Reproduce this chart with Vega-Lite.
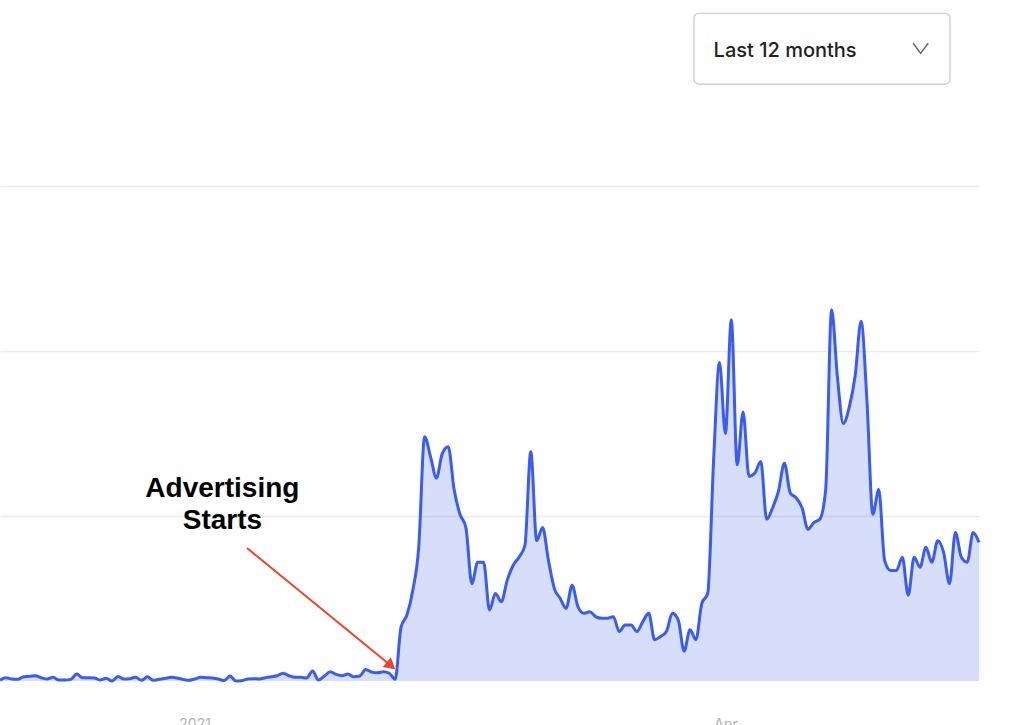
{
  "$schema": "https://vega.github.io/schema/vega-lite/v6.json",
  "width": 979,
  "height": 681,
  "autosize": {"type": "none"},
  "padding": {"left": 0, "top": 0, "right": 45, "bottom": 44},
  "background": "white",
  "config": {"view": {"stroke": null}},
  "datasets": {
    "series": [
      {"date":"2020-11-29","v":0.005},{"date":"2020-11-30","v":0.02},
      {"date":"2020-12-01","v":0.012},{"date":"2020-12-02","v":0.01},{"date":"2020-12-03","v":0.026},{"date":"2020-12-04","v":0.028},{"date":"2020-12-05","v":0.032},{"date":"2020-12-06","v":0.02},{"date":"2020-12-07","v":0.012},{"date":"2020-12-08","v":0.022},{"date":"2020-12-09","v":0.006},{"date":"2020-12-10","v":0.006},{"date":"2020-12-11","v":0.01},{"date":"2020-12-12","v":0.042},{"date":"2020-12-13","v":0.02},{"date":"2020-12-14","v":0.02},{"date":"2020-12-15","v":0.018},{"date":"2020-12-16","v":0.006},{"date":"2020-12-17","v":0.016},{"date":"2020-12-18","v":0.0},{"date":"2020-12-19","v":0.028},{"date":"2020-12-20","v":0.012},{"date":"2020-12-21","v":0.014},{"date":"2020-12-22","v":0.022},{"date":"2020-12-23","v":0.004},{"date":"2020-12-24","v":0.026},{"date":"2020-12-25","v":0.004},{"date":"2020-12-26","v":0.01},{"date":"2020-12-27","v":0.016},{"date":"2020-12-28","v":0.022},{"date":"2020-12-29","v":0.018},{"date":"2020-12-30","v":0.01},{"date":"2020-12-31","v":0.004},
      {"date":"2021-01-01","v":0.012},{"date":"2021-01-02","v":0.022},{"date":"2021-01-03","v":0.02},{"date":"2021-01-04","v":0.018},{"date":"2021-01-05","v":0.012},{"date":"2021-01-06","v":0.002},{"date":"2021-01-07","v":0.03},{"date":"2021-01-08","v":0.0},{"date":"2021-01-09","v":0.002},{"date":"2021-01-10","v":0.012},{"date":"2021-01-11","v":0.014},{"date":"2021-01-12","v":0.012},{"date":"2021-01-13","v":0.02},{"date":"2021-01-14","v":0.026},{"date":"2021-01-15","v":0.032},{"date":"2021-01-16","v":0.047},{"date":"2021-01-17","v":0.032},{"date":"2021-01-18","v":0.022},{"date":"2021-01-19","v":0.022},{"date":"2021-01-20","v":0.018},{"date":"2021-01-21","v":0.06},{"date":"2021-01-22","v":0.006},{"date":"2021-01-23","v":0.03},{"date":"2021-01-24","v":0.056},{"date":"2021-01-25","v":0.04},{"date":"2021-01-26","v":0.032},{"date":"2021-01-27","v":0.042},{"date":"2021-01-28","v":0.026},{"date":"2021-01-29","v":0.03},{"date":"2021-01-30","v":0.07},{"date":"2021-01-31","v":0.054},
      {"date":"2021-02-01","v":0.05},{"date":"2021-02-02","v":0.056},{"date":"2021-02-03","v":0.047},{"date":"2021-02-04","v":0.01},{"date":"2021-02-05","v":0.327},{"date":"2021-02-06","v":0.40},{"date":"2021-02-07","v":0.55},{"date":"2021-02-08","v":0.81},{"date":"2021-02-09","v":1.48},{"date":"2021-02-10","v":1.36},{"date":"2021-02-11","v":1.23},{"date":"2021-02-12","v":1.38},{"date":"2021-02-13","v":1.42},{"date":"2021-02-14","v":1.16},{"date":"2021-02-15","v":1.01},{"date":"2021-02-16","v":0.93},{"date":"2021-02-17","v":0.59},{"date":"2021-02-18","v":0.72},{"date":"2021-02-19","v":0.72},{"date":"2021-02-20","v":0.43},{"date":"2021-02-21","v":0.53},{"date":"2021-02-22","v":0.48},{"date":"2021-02-23","v":0.61},{"date":"2021-02-24","v":0.70},{"date":"2021-02-25","v":0.75},{"date":"2021-02-26","v":0.82},{"date":"2021-02-27","v":1.39},{"date":"2021-02-28","v":0.85},
      {"date":"2021-03-01","v":0.93},{"date":"2021-03-02","v":0.73},{"date":"2021-03-03","v":0.56},{"date":"2021-03-04","v":0.50},{"date":"2021-03-05","v":0.44},{"date":"2021-03-06","v":0.58},{"date":"2021-03-07","v":0.45},{"date":"2021-03-08","v":0.41},{"date":"2021-03-09","v":0.42},{"date":"2021-03-10","v":0.39},{"date":"2021-03-11","v":0.38},{"date":"2021-03-12","v":0.38},{"date":"2021-03-13","v":0.39},{"date":"2021-03-14","v":0.30},{"date":"2021-03-15","v":0.34},{"date":"2021-03-16","v":0.34},{"date":"2021-03-17","v":0.30},{"date":"2021-03-18","v":0.36},{"date":"2021-03-19","v":0.41},{"date":"2021-03-20","v":0.25},{"date":"2021-03-21","v":0.27},{"date":"2021-03-22","v":0.30},{"date":"2021-03-23","v":0.41},{"date":"2021-03-24","v":0.37},{"date":"2021-03-25","v":0.18},{"date":"2021-03-26","v":0.31},{"date":"2021-03-27","v":0.25},{"date":"2021-03-28","v":0.47},{"date":"2021-03-29","v":0.53},{"date":"2021-03-30","v":1.34},{"date":"2021-03-31","v":1.93},
      {"date":"2021-04-01","v":1.50},{"date":"2021-04-02","v":2.19},{"date":"2021-04-03","v":1.31},{"date":"2021-04-04","v":1.63},{"date":"2021-04-05","v":1.24},{"date":"2021-04-06","v":1.26},{"date":"2021-04-07","v":1.33},{"date":"2021-04-08","v":0.98},{"date":"2021-04-09","v":1.05},{"date":"2021-04-10","v":1.15},{"date":"2021-04-11","v":1.32},{"date":"2021-04-12","v":1.14},{"date":"2021-04-13","v":1.11},{"date":"2021-04-14","v":1.05},{"date":"2021-04-15","v":0.92},{"date":"2021-04-16","v":0.96},{"date":"2021-04-17","v":0.98},{"date":"2021-04-18","v":1.16},{"date":"2021-04-19","v":2.25},{"date":"2021-04-20","v":1.84},{"date":"2021-04-21","v":1.56},{"date":"2021-04-22","v":1.66},{"date":"2021-04-23","v":1.85},{"date":"2021-04-24","v":2.18},{"date":"2021-04-25","v":1.70},{"date":"2021-04-26","v":1.01},{"date":"2021-04-27","v":1.16},{"date":"2021-04-28","v":0.73},{"date":"2021-04-29","v":0.67},{"date":"2021-04-30","v":0.67},
      {"date":"2021-05-01","v":0.75},{"date":"2021-05-02","v":0.52},{"date":"2021-05-03","v":0.75},{"date":"2021-05-04","v":0.69},{"date":"2021-05-05","v":0.81},{"date":"2021-05-06","v":0.72},{"date":"2021-05-07","v":0.85},{"date":"2021-05-08","v":0.78},{"date":"2021-05-09","v":0.59},{"date":"2021-05-10","v":0.90},{"date":"2021-05-11","v":0.75},{"date":"2021-05-12","v":0.72},{"date":"2021-05-13","v":0.90},{"date":"2021-05-14","v":0.84}
    ],
    "labels": [
      {"date":"2021-01-05T17:00:00Z","v":1.117,"t":"Advertising"},
      {"date":"2021-01-05T17:00:00Z","v":0.921,"t":"Starts"}
    ],
    "arrow": [
      {"date":"2021-01-09T21:00:00Z","v":0.806},
      {"date":"2021-02-03T01:24:00Z","v":0.1}
    ],
    "head": [
      {"date":"2021-02-03T01:24:00Z","v":0.1}
    ],
    "box": [
      {"date":"2021-03-26T16:00:00Z","date2":"2021-05-09T02:00:00Z","v":4.047,"v2":3.618}
    ],
    "boxtext": [
      {"date":"2021-03-30T00:00:00Z","v":3.78,"t":"Last 12 months"}
    ],
    "chevron": [
      {"date":"2021-05-02T20:24:00Z","v":3.865},
      {"date":"2021-05-04T02:24:00Z","v":3.804},
      {"date":"2021-05-05T09:24:00Z","v":3.865}
    ]
  },
  "encoding": {
    "x": {
      "field": "date",
      "type": "temporal",
      "scale": {
        "type": "utc",
        "domain": [
          {"year": 2020, "month": 11, "date": 29, "utc": true},
          {"year": 2021, "month": 5, "date": 14, "utc": true}
        ]
      },
      "axis": {
        "title": null,
        "values": [
          {"year": 2021, "month": 1, "date": 1, "utc": true},
          {"year": 2021, "month": 4, "date": 1, "utc": true}
        ],
        "labelExpr": "utcmonth(datum.value) == 0 ? utcFormat(datum.value, '%Y') : utcFormat(datum.value, '%b')",
        "grid": false,
        "domain": false,
        "ticks": false,
        "tickSize": 0,
        "labelPadding": 36,
        "labelFlush": false,
        "labelFontSize": 14,
        "labelFont": "Inter",
        "labelColor": "#b3b3b3"
      }
    },
    "y": {
      "field": "v",
      "type": "quantitative",
      "scale": {"domain": [0, 4.1273], "nice": false, "zero": true},
      "axis": {
        "title": null,
        "values": [1, 2, 3],
        "labels": false,
        "ticks": false,
        "domain": false,
        "grid": true,
        "gridColor": "#ebebeb",
        "gridWidth": 1.5
      }
    }
  },
  "layer": [
    {
      "data": {"name": "series"},
      "mark": {"type": "area", "interpolate": "monotone", "fill": "#3f62ef", "fillOpacity": 0.21}
    },
    {
      "data": {"name": "series"},
      "mark": {"type": "line", "interpolate": "monotone", "color": "#3a5cf0", "strokeWidth": 3}
    },
    {
      "data": {"name": "arrow"},
      "mark": {"type": "line", "color": "#e8452c", "strokeWidth": 2}
    },
    {
      "data": {"name": "head"},
      "mark": {"type": "point", "shape": "triangle", "filled": true, "color": "#e8452c", "size": 160, "angle": 129.5, "opacity": 1}
    },
    {
      "data": {"name": "labels"},
      "mark": {"type": "text", "font": "Liberation Sans", "fontWeight": "bold", "fontSize": 28, "align": "center", "baseline": "alphabetic", "color": "#000000"},
      "encoding": {"text": {"field": "t"}}
    },
    {
      "data": {"name": "box", "format": {"parse": {"date": "date", "date2": "date"}}},
      "mark": {"type": "rect", "fill": "white", "stroke": "#c8c8c8", "strokeWidth": 1.2, "cornerRadius": 5},
      "encoding": {"x2": {"field": "date2"}, "y2": {"field": "v2"}}
    },
    {
      "data": {"name": "boxtext"},
      "mark": {"type": "text", "font": "Inter", "fontWeight": 500, "fontSize": 20, "align": "left", "baseline": "alphabetic", "color": "#222222"},
      "encoding": {"text": {"field": "t"}}
    },
    {
      "data": {"name": "chevron"},
      "mark": {"type": "line", "color": "#666666", "strokeWidth": 1.5, "interpolate": "linear"}
    }
  ]
}
